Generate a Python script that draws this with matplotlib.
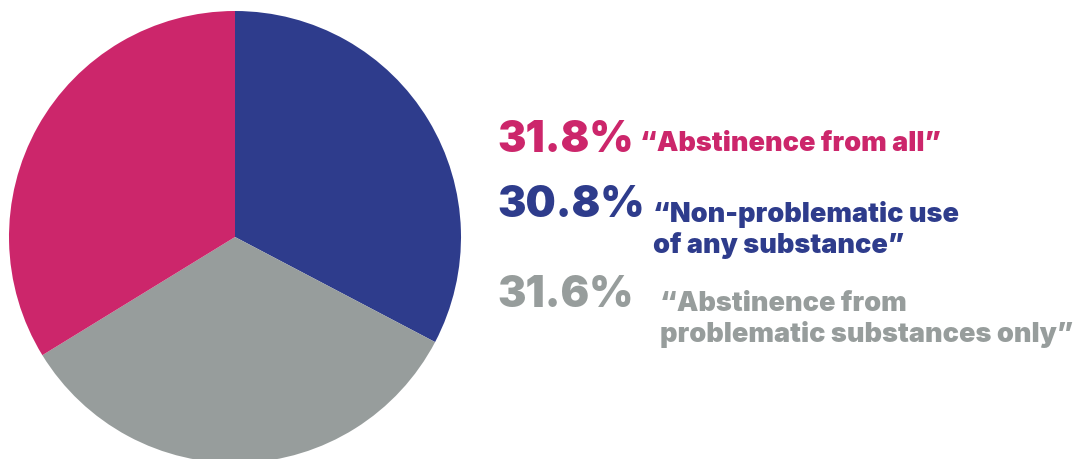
import matplotlib
matplotlib.use('Agg')
import matplotlib.pyplot as plt

# pie slices, clockwise from the top
labels = ['Non-problematic use of any substance',
          'Abstinence from problematic substances only',
          'Abstinence from all']
values = [30.8, 31.6, 31.8]
colors = ['#2e3c8c', '#979d9c', '#cc266b']

# text rows on the right, top to bottom
pct_text = ['31.8%', '30.8%', '31.6%']
desc_text = ['\u201cAbstinence from all\u201d',
             '\u201cNon-problematic use\nof any substance\u201d',
             '\u201cAbstinence from\nproblematic substances only\u201d']
text_colors = ['#cc266b', '#2e3c8c', '#979d9c']

W, H = 1091, 459
fig = plt.figure(figsize=(W / 100, H / 100), dpi=100)
ax = fig.add_axes([0, 0, 1, 1])

ax.pie(values, colors=colors, startangle=90, counterclock=False,
       center=(235, H - 237), radius=226, frame=True,
       wedgeprops=dict(linewidth=0))
ax.set_xlim(0, W)
ax.set_ylim(0, H)
ax.axis('off')

fam = ['Inter', 'DejaVu Sans']
pct_y = [152, 217, 307]
# baseline of the last line of each description
desc_xy = [(640, 151), (653, 253), (660, 342)]
for i in range(3):
    ax.text(497, H - pct_y[i], pct_text[i], color=text_colors[i],
            fontsize=30.5, fontweight='black', family=fam, va='baseline', ha='left')
    ax.text(desc_xy[i][0], H - desc_xy[i][1], desc_text[i], color=text_colors[i],
            fontsize=19.5, fontweight='black', family=fam, va='baseline', ha='left',
            linespacing=1.2)

fig.savefig('out.png', dpi=100)
